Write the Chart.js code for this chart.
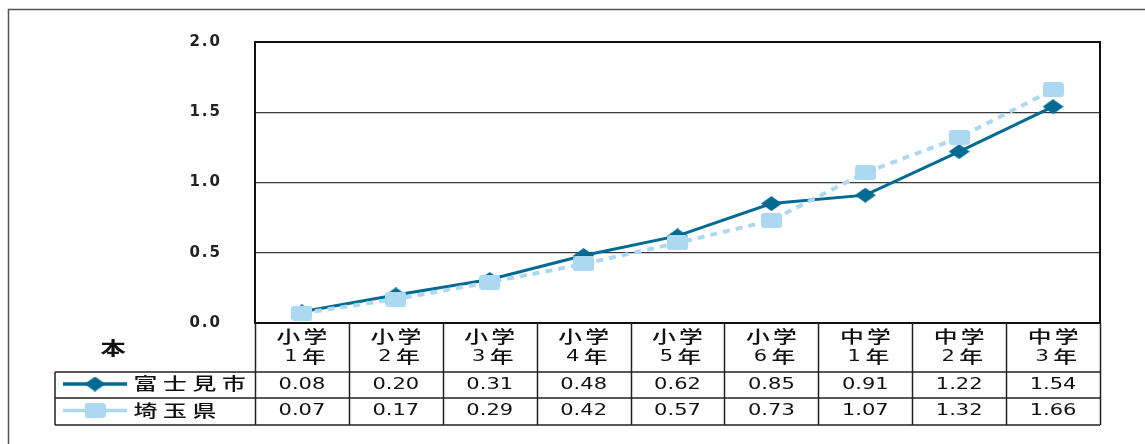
<!DOCTYPE html>
<html lang="ja">
<head>
<meta charset="utf-8">
<title>富士見市・埼玉県 比較</title>
<script src="https://cdn.jsdelivr.net/npm/chart.js@4.4.1/dist/chart.umd.min.js"></script>
<style>
    html, body { margin: 0; padding: 0; background: #fff; }
    #wrap { position: relative; width: 1145px; height: 444px; }
</style>
</head>
<body>
<div id="wrap"><canvas id="gradeChart"></canvas></div>
<script>
const gradeTop = ['小学', '小学', '小学', '小学', '小学', '小学', '中学', '中学', '中学'];
const gradeBottom = ['1年', '2年', '3年', '4年', '5年', '6年', '1年', '2年', '3年'];
const fujimiValues = [0.08, 0.20, 0.31, 0.48, 0.62, 0.85, 0.91, 1.22, 1.54];
const saitamaValues = [0.07, 0.17, 0.29, 0.42, 0.57, 0.73, 1.07, 1.32, 1.66];
const seriesNames = ['富士見市', '埼玉県'];
const yTicks = [0, 0.5, 1.0, 1.5, 2.0];
const unitLabel = '本';

const darkBlue = '#006a92';
const lightBlue = '#acd8f1';
const STRETCH = 1.4;
const cjkFont = '500 17px "Noto Sans CJK JP"';

// marker images (the reference is a bit wide, so the markers are too)
function makeDiamond(w, h, color) {
    const c = document.createElement('canvas');
    c.width = w; c.height = h;
    const g = c.getContext('2d');
    g.fillStyle = color;
    g.beginPath();
    g.moveTo(w / 2, 0);
    g.lineTo(w, h / 2);
    g.lineTo(w / 2, h);
    g.lineTo(0, h / 2);
    g.closePath();
    g.fill();
    return c;
}

function makeSquare(w, h, color) {
    const c = document.createElement('canvas');
    c.width = w; c.height = h;
    const g = c.getContext('2d');
    g.fillStyle = color;
    g.beginPath();
    g.roundRect(0, 0, w, h, 3);
    g.fill();
    return c;
}

const diamondImg = makeDiamond(21, 15, darkBlue);
const squareImg = makeSquare(21, 15, lightBlue);

function wideText(ctx, text, x, y, align) {
    ctx.save();
    ctx.translate(x, y);
    ctx.scale(STRETCH, 1);
    ctx.textAlign = align || 'center';
    ctx.textBaseline = 'middle';
    ctx.fillText(text, 0, 0);
    ctx.restore();
}

// draw characters one by one with a fixed advance, centred on cx
function spacedText(ctx, text, cx, cy, advance) {
    const chars = Array.from(text);
    const start = cx - advance * (chars.length - 1) / 2;
    chars.forEach((ch, i) => wideText(ctx, ch, start + i * advance, cy));
}

const framePlugin = {
    id: 'frameAndTable',
    beforeDraw(chart) {
        const ctx = chart.ctx;
        ctx.save();
        ctx.strokeStyle = '#555';
        ctx.lineWidth = 1.5;
        ctx.beginPath();
        ctx.moveTo(8.5, 444);
        ctx.lineTo(8.5, 9.5);
        ctx.lineTo(1145, 9.5);
        ctx.stroke();
        ctx.restore();
        // the axis numbers in the reference are spaced out
        ctx.letterSpacing = '2px';
    },
    beforeDatasetsDraw(chart) {
        chart.ctx.letterSpacing = '0px';
    },
    afterDraw(chart) {
        const ctx = chart.ctx;
        const area = chart.chartArea;
        const xs = chart.scales.x;
        const n = gradeTop.length;
        const colW = (area.right - area.left) / n;
        const legendLeft = 55;
        const headBottom = 372;
        const row1Bottom = 398;
        const row2Bottom = 425;

        ctx.save();
        ctx.letterSpacing = '0px';
        // plot frame
        ctx.strokeStyle = '#111';
        ctx.lineWidth = 2;
        ctx.strokeRect(area.left, area.top, area.right - area.left, area.bottom - area.top);

        // table grid
        ctx.lineWidth = 1.5;
        ctx.strokeStyle = '#222';
        ctx.beginPath();
        for (let i = 0; i <= n; i++) {
            const x = Math.round(area.left + i * colW) + 0.5;
            ctx.moveTo(x, area.bottom);
            ctx.lineTo(x, row2Bottom);
        }
        ctx.moveTo(legendLeft, headBottom);
        ctx.lineTo(area.right, headBottom);
        ctx.moveTo(legendLeft, row1Bottom);
        ctx.lineTo(area.right, row1Bottom);
        ctx.moveTo(legendLeft, row2Bottom);
        ctx.lineTo(area.right, row2Bottom);
        ctx.moveTo(legendLeft, headBottom);
        ctx.lineTo(legendLeft, row2Bottom);
        ctx.stroke();

        // header + values
        ctx.fillStyle = '#111';
        for (let i = 0; i < n; i++) {
            const cx = xs.getPixelForValue(i);
            ctx.font = cjkFont;
            spacedText(ctx, gradeTop[i], cx, 337, 27);
            ctx.font = '15px "DejaVu Sans"';
            wideText(ctx, gradeBottom[i].charAt(0), cx - 11, 357);
            ctx.font = cjkFont;
            wideText(ctx, gradeBottom[i].slice(1), cx + 12, 357);

            ctx.font = '15px "DejaVu Sans"';
            wideText(ctx, fujimiValues[i].toFixed(2), cx, 385);
            wideText(ctx, saitamaValues[i].toFixed(2), cx, 411.5);
        }

        // legend cells
        const rows = [
            { y: 384, color: darkBlue, img: diamondImg, name: seriesNames[0] },
            { y: 410.5, color: lightBlue, img: squareImg, name: seriesNames[1] }
        ];
        rows.forEach(r => {
            ctx.strokeStyle = r.color;
            ctx.lineWidth = 3.5;
            ctx.beginPath();
            ctx.moveTo(63, r.y);
            ctx.lineTo(127, r.y);
            ctx.stroke();
            ctx.drawImage(r.img, 95 - r.img.width / 2, r.y - r.img.height / 2);
            ctx.fillStyle = '#111';
            ctx.font = cjkFont;
            const chars = Array.from(r.name);
            chars.forEach((ch, i) => wideText(ctx, ch, 145.5 + i * 29.5, r.y));
        });

        // unit label
        ctx.font = 'bold 18px "Noto Sans CJK JP"';
        wideText(ctx, unitLabel, 113, 348);
        ctx.restore();
    }
};

const ctx = document.getElementById('gradeChart');

new Chart(ctx, {
    type: 'line',
    data: {
        labels: gradeTop.map((t, i) => [t, gradeBottom[i]]),
        datasets: [{
            label: seriesNames[0],
            data: fujimiValues,
            borderColor: darkBlue,
            backgroundColor: darkBlue,
            borderWidth: 3,
            pointStyle: diamondImg,
            order: 1
        }, {
            label: seriesNames[1],
            data: saitamaValues,
            borderColor: lightBlue,
            backgroundColor: lightBlue,
            borderWidth: 4,
            borderDash: [7, 6],
            pointStyle: squareImg,
            order: 0
        }]
    },
    options: {
        responsive: true,
        maintainAspectRatio: false,
        animation: false,
        layout: {
            padding: { top: 41, right: 45, bottom: 121, left: 0 }
        },
        scales: {
            x: {
                display: false,
                offset: true
            },
            y: {
                min: 0,
                max: 2,
                afterFit(scale) { scale.width = 255; },
                afterBuildTicks(scale) {
                    scale.ticks = yTicks.map(v => ({ value: v }));
                },
                border: { display: false },
                grid: {
                    color: '#3a3a3a',
                    lineWidth: 1.2,
                    drawTicks: false
                },
                ticks: {
                    padding: 33,
                    color: '#222',
                    font: { family: 'DejaVu Sans', size: 15, weight: 'bold' },
                    callback: v => Number(v).toFixed(1)
                }
            }
        },
        plugins: {
            legend: { display: false },
            tooltip: { enabled: false }
        }
    },
    plugins: [framePlugin]
});
</script>
</body>
</html>
